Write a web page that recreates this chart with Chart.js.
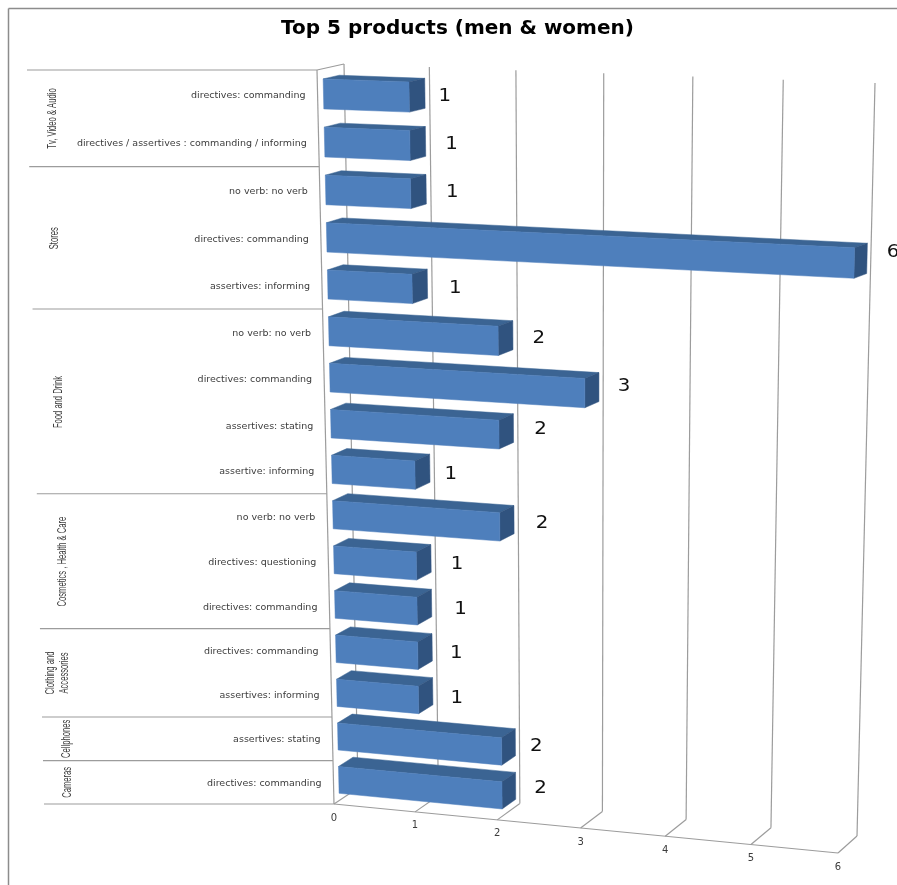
<!DOCTYPE html>
<html>
<head>
<meta charset="utf-8">
<title>Top 5 products (men & women)</title>
<style>
    html, body { margin: 0; padding: 0; background: #fff; }
    canvas { display: block; }
</style>
<script src="https://cdn.jsdelivr.net/npm/chart.js@4/dist/chart.umd.min.js"></script>
</head>
<body>
<canvas id="chart" width="897" height="885"></canvas>
<script>
const categories = [
    "directives: commanding",
    "directives / assertives : commanding / informing",
    "no verb: no verb",
    "directives: commanding",
    "assertives: informing",
    "no verb: no verb",
    "directives: commanding",
    "assertives: stating",
    "assertive: informing",
    "no verb: no verb",
    "directives: questioning",
    "directives: commanding",
    "directives: commanding",
    "assertives: informing",
    "assertives: stating",
    "directives: commanding",
];
const values = [1, 1, 1, 6, 1, 2, 3, 2, 1, 2, 1, 1, 1, 1, 2, 2];

const groupNames = [
    ["Tv, Video & Audio"],
    ["Stores"],
    ["Food and Drink"],
    ["Cosmetics , Health & Care"],
    ["Clothing and", "Accessories"],
    ["Cellphones"],
    ["Cameras"],
];
const groupSizes = [2, 3, 4, 3, 2, 1, 1];

// the value labels were placed by hand in the original
const labelNudgeX = [20, 26, 26, 26, 28, 26, 25, 27, 21, 28, 26, 29, 24, 24, 21, 25];
const labelNudgeY = [4, 4, 4, -5, 6, 4, 0, 2, 7, 5, 7, 7, 7, 8, 5, 3];

const GRID = "#9c9c9c";
const TEXT = "#3c3c3c";

// corners of the 3D box: top-left, top-right, bottom-right, bottom-left
const frontPlane = makeProjection([[317, 70], [853, 88], [838, 853], [334, 804]]);
const backPlane = makeProjection([[344, 64], [875, 83], [857, 836], [358, 788]]);
const BAR_FRONT = 0.22;
const BAR_BACK = 0.82;
const BAR_DROP = 1;

function makeProjection(q) {
    const [[x0, y0], [x1, y1], [x2, y2], [x3, y3]] = q;
    const dx1 = x1 - x2, dx2 = x3 - x2, sx = x0 - x1 + x2 - x3;
    const dy1 = y1 - y2, dy2 = y3 - y2, sy = y0 - y1 + y2 - y3;
    const det = dx1 * dy2 - dx2 * dy1;
    const g = (sx * dy2 - dx2 * sy) / det;
    const h = (dx1 * sy - sx * dy1) / det;
    return (u, t) => {
        const w = g * u + h * t + 1;
        return [
            ((x1 - x0 + g * x1) * u + (x3 - x0 + h * x3) * t + x0) / w,
            ((y1 - y0 + g * y1) * u + (y3 - y0 + h * y3) * t + y0) / w,
        ];
    };
}

// chart pixel + depth (0 front, 1 back) to screen position
function project(area, px, py, depth) {
    const u = (px - area.left) / area.width;
    const t = (py - area.top) / area.height;
    const f = frontPlane(u, t);
    const b = backPlane(u, t);
    return [f[0] + (b[0] - f[0]) * depth, f[1] + (b[1] - f[1]) * depth];
}

function line(ctx, a, b) {
    ctx.beginPath();
    ctx.moveTo(a[0], a[1]);
    ctx.lineTo(b[0], b[1]);
    ctx.stroke();
}

function face(ctx, color, points) {
    ctx.beginPath();
    points.forEach((p, i) => (i ? ctx.lineTo(p[0], p[1] + BAR_DROP) : ctx.moveTo(p[0], p[1] + BAR_DROP)));
    ctx.closePath();
    ctx.fillStyle = color;
    ctx.fill();
    ctx.strokeStyle = color;
    ctx.lineWidth = 0.5;
    ctx.stroke();
}

const box3dPlugin = {
    id: "box3d",
    beforeDatasetsDraw(chart) {
        const { ctx, chartArea: area, scales } = chart;
        const x = scales.x;
        ctx.save();

        // picture frame
        ctx.strokeStyle = "#8c8c8c";
        ctx.lineWidth = 1.5;
        line(ctx, [8.5, 885], [8.5, 8.5]);
        line(ctx, [8.5, 8.5], [897, 8.5]);

        ctx.strokeStyle = GRID;
        ctx.lineWidth = 1.2;
        // back wall gridlines and floor lines
        x.ticks.forEach((tick) => {
            const px = x.getPixelForValue(tick.value);
            line(ctx, project(area, px, area.top, 1), project(area, px, area.bottom, 1));
            line(ctx, project(area, px, area.bottom, 1), project(area, px, area.bottom, 0));
        });
        // left wall and front edge of the floor
        line(ctx, project(area, area.left, area.top, 1), project(area, area.left, area.top, 0));
        line(ctx, project(area, area.left, area.top, 0), project(area, area.left, area.bottom, 0));
        line(ctx, project(area, area.left, area.bottom, 0), project(area, area.right, area.bottom, 0));

        // value axis labels
        ctx.fillStyle = TEXT;
        ctx.font = '10px "DejaVu Sans"';
        ctx.textAlign = "center";
        ctx.textBaseline = "middle";
        x.ticks.forEach((tick) => {
            const p = project(area, x.getPixelForValue(tick.value), area.bottom, 0);
            ctx.fillText(tick.label, p[0], p[1] + 14);
        });

        drawCategoryAxis(chart);
        ctx.restore();
    },
    beforeDatasetDraw(chart, args) {
        const { ctx, chartArea: area } = chart;
        ctx.save();
        args.meta.data.forEach((bar) => {
            const { x, y, base, height } = bar.getProps(["x", "y", "base", "height"], true);
            const top = y - height / 2;
            const bottom = y + height / 2;
            const a = project(area, base, top, BAR_FRONT);
            const b = project(area, x, top, BAR_FRONT);
            const c = project(area, x, bottom, BAR_FRONT);
            const d = project(area, base, bottom, BAR_FRONT);
            const e = project(area, base, top, BAR_BACK);
            const f = project(area, x, top, BAR_BACK);
            const g = project(area, x, bottom, BAR_BACK);
            face(ctx, "#3b6493", [a, b, f, e]);
            face(ctx, "#30537f", [b, c, g, f]);
            face(ctx, "#4e7fbc", [a, b, c, d]);
        });
        ctx.restore();
        return false;
    },
    afterDatasetsDraw(chart) {
        const { ctx, chartArea: area } = chart;
        const meta = chart.getDatasetMeta(0);
        ctx.save();
        ctx.fillStyle = "#111";
        ctx.font = '18px "DejaVu Sans"';
        ctx.textAlign = "center";
        ctx.textBaseline = "middle";
        meta.data.forEach((bar, i) => {
            const p = project(area, bar.x, bar.y, BAR_BACK);
            ctx.save();
            ctx.translate(p[0] + labelNudgeX[i], p[1] + labelNudgeY[i]);
            ctx.scale(1.1, 1);
            ctx.fillText(String(values[i]), 0, 0);
            ctx.restore();
        });
        ctx.restore();
    },
};

function drawCategoryAxis(chart) {
    const { ctx, chartArea: area, scales } = chart;
    const y = scales.y;
    const rowHeight = y.getPixelForValue(1) - y.getPixelForValue(0);

    ctx.fillStyle = TEXT;
    ctx.font = '9.5px "DejaVu Sans"';
    ctx.textAlign = "right";
    ctx.textBaseline = "middle";
    categories.forEach((label, i) => {
        const p = project(area, area.left, y.getPixelForValue(i), 0);
        ctx.fillText(label, p[0] - 12, p[1] + 1);
    });

    // group separators and rotated group names
    let row = 0;
    const separator = (edge) => {
        const p = project(area, area.left, edge, 0);
        ctx.strokeStyle = GRID;
        ctx.lineWidth = 1.2;
        line(ctx, [p[0] - 290, p[1]], p);
    };
    separator(area.top);
    groupSizes.forEach((size, g) => {
        const start = y.getPixelForValue(row) - rowHeight / 2;
        const end = start + size * rowHeight;
        separator(end);
        const p = project(area, area.left, (start + end) / 2, 0);
        const lines = groupNames[g];
        lines.forEach((text, n) => {
            ctx.save();
            ctx.translate(p[0] - 266 - (lines.length - 1 - n) * 14, p[1]);
            ctx.rotate(-Math.PI / 2);
            ctx.scale(0.61, 1);
            ctx.font = '12.5px "Liberation Sans"';
            ctx.textAlign = "center";
            ctx.fillStyle = TEXT;
            ctx.fillText(text, 0, 0);
            ctx.restore();
        });
        row += size;
    });
}

new Chart(document.getElementById("chart"), {
    type: "bar",
    data: {
        labels: categories,
        datasets: [
            {
                data: values,
                backgroundColor: "#4e7fbc",
                barPercentage: 0.62,
                categoryPercentage: 1,
            },
        ],
    },
    options: {
        indexAxis: "y",
        responsive: false,
        animation: false,
        layout: { padding: { left: 18, top: 8 } },
        plugins: {
            legend: { display: false },
            tooltip: { enabled: false },
            title: {
                display: true,
                text: "Top 5 products (men & women)",
                color: "#000",
                font: { family: "DejaVu Sans", size: 20, weight: "bold" },
                padding: { top: 9, bottom: 20 },
            },
        },
        scales: {
            x: { display: false, min: 0, max: 6, ticks: { stepSize: 1 } },
            y: { display: false },
        },
    },
    plugins: [box3dPlugin],
});
</script>
</body>
</html>
